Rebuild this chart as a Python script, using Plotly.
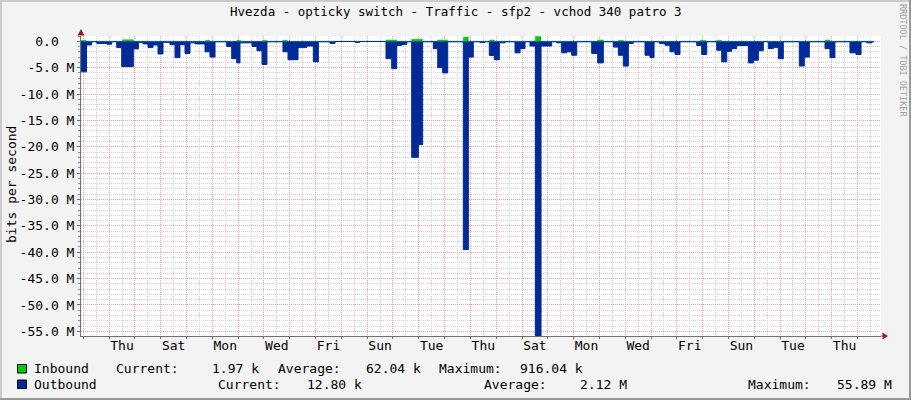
import plotly.graph_objects as go

# ---------------- data (hours since first midnight, Mbit/s) ----------------
out_t = [-2.1, 3.0, 7.8, 12.5, 21.8, 26.4, 31.1, 35.7, 46.5, 51.2,
         55.5, 60.2, 64.8, 69.5, 74.1, 80.6, 85.3, 89.9, 94.6, 99.2,
         103.9, 113.2, 117.8, 122.5, 133.4, 138.0, 142.7, 145.7, 156.9, 161.5,
         166.2, 170.8, 185.7, 190.4, 199.7, 207.8, 213.9, 218.6, 229.4, 234.1,
         252.7, 257.3, 281.5, 286.8, 291.5, 296.1, 300.8, 305.4, 311.6, 315.6,
         325.5, 329.6, 334.2, 338.9, 353.4, 358.1, 362.7, 368.9, 373.6, 377.6,
         382.2, 386.9, 392.2, 401.5, 406.2, 410.8, 415.4, 420.5, 425.7, 435.6,
         440.3, 444.9, 449.6, 454.2, 458.9, 472.8, 478.4, 483.6, 492.9, 497.6,
         502.2, 506.9, 511.5, 522.4, 527.0, 530.8, 535.7, 541.0, 545.6, 550.3,
         554.9, 570.5, 575.1, 579.8, 589.1, 593.7, 598.4, 603.0, 607.7, 618.5,
         623.1, 627.8, 632.4, 637.1, 641.7, 646.4, 651.0, 665.9, 670.5, 675.2,
         689.8, 694.4, 699.0, 713.0, 718.6, 723.3, 728.6, 733.3, 735.5]
out_v = [5.8, 0.7, 0.1, 0.4, 0.55, 0.1, 1.2, 4.8, 1.45, 0.2,
         0.5, 1.2, 0.7, 2.4, 0.2, 0.65, 3.1, 0.65, 2.3, 0.3,
         0.5, 2.0, 3.0, 0.1, 1.0, 3.3, 4.1, 0.3, 1.0, 1.8,
         4.4, 0.1, 2.0, 3.5, 1.2, 0.9, 3.9, 0.1, 0.4, 0.05,
         0.2, 0.05, 3.3, 5.2, 0.8, 0.6, 0.1, 22.0, 19.6, 0.1,
         1.4, 5.0, 6.0, 0.1, 39.5, 3.0, 0.1, 0.25, 0.1, 2.7,
         3.5, 0.3, 0.1, 2.2, 1.4, 0.1, 0.9, 55.89, 0.9, 0.1,
         0.3, 2.2, 2.0, 2.65, 0.1, 2.3, 4.1, 0.1, 1.1, 2.65,
         4.7, 0.4, 0.1, 2.65, 3.1, 0.1, 0.4, 0.75, 2.0, 2.5,
         0.1, 0.8, 2.5, 0.1, 1.7, 3.9, 1.9, 1.4, 0.8, 4.1,
         3.6, 1.8, 0.1, 1.4, 1.2, 3.3, 0.1, 4.7, 3.0, 0.1,
         1.4, 3.1, 0.1, 2.2, 2.5, 0.1, 0.3, 0.1, 0.1]

in_t = [-2.1, 2.5, 36.6, 46.5, 113.8, 117.8, 142.7, 146.4, 166.8, 170.6,
        185.4, 189.7, 281.5, 291.5, 305.4, 315.6, 329.6, 338.9, 353.4, 358.1,
        377.6, 382.2, 420.5, 425.7, 478.4, 483.6, 497.6, 502.2, 573.5, 579.1,
        589.1, 593.7, 689.8, 694.4, 735.5]
in_v = [0.2, 0.02, 0.3, 0.02, 0.2, 0.02, 0.2, 0.02, 0.2, 0.02,
        0.2, 0.02, 0.25, 0.02, 0.4, 0.02, 0.25, 0.02, 0.8, 0.02,
        0.25, 0.02, 0.916, 0.02, 0.25, 0.02, 0.2, 0.02, 0.2, 0.02,
        0.2, 0.02, 0.25, 0.02, 0.02]

assert len(out_t) == len(out_v) and len(in_t) == len(in_v)

day_label_hours = [36 + 48 * i for i in range(15)]
day_labels = ["Thu", "Sat", "Mon", "Wed", "Fri", "Sun", "Tue", "Thu",
              "Sat", "Mon", "Wed", "Fri", "Sun", "Tue", "Thu"]
y_tickvals = [0, -5, -10, -15, -20, -25, -30, -35, -40, -45, -50, -55]
y_ticktext = ["0.0\u00a0\u00a0"] + ["%.1f M" % v for v in y_tickvals[1:]]

title = "Hvezda - opticky switch - Traffic - sfp2 - vchod 340 patro 3"
legend_row1 = ["Inbound", "Current:", "1.97 k", "Average:", "62.04 k", "Maximum:", "916.04 k"]
legend_row2 = ["Outbound", "Current:", "12.80 k", "Average:", "2.12 M", "Maximum:", "55.89 M"]

# ---------------- layout helpers ----------------
W, H = 911, 400
L, R, T, B = 81, 881, 36, 336
def px(x):
    return (x - L) / (R - L)
def py(y):
    return (B - y) / (B - T)

GREEN = "#00CC00"
BLUE = "#002A97"
MONO = "DejaVu Sans Mono"

fig = go.Figure()
fig.add_trace(go.Scatter(x=in_t, y=in_v, mode="lines", line_shape="hv",
                         line=dict(color=GREEN, width=0.5), fill="tozeroy",
                         fillcolor=GREEN, hoverinfo="skip"))
fig.add_trace(go.Scatter(x=out_t, y=[-v for v in out_v], mode="lines", line_shape="hv",
                         line=dict(color=BLUE, width=1), fill="tozeroy",
                         fillcolor=BLUE, hoverinfo="skip"))
# dummy trace to carry the label axis
fig.add_trace(go.Scatter(x=[-2.14, 741.86], y=[0, 0], xaxis="x2", mode="lines",
                         line=dict(width=0), opacity=0, hoverinfo="skip"))

grid_major = "#F2A0A0"
grid_minor = "#D2D2D2"
dash = "1px,1px"

fig.update_layout(
    width=W, height=H, autosize=False,
    margin=dict(l=L, r=W - R, t=T, b=H - B, pad=0),
    paper_bgcolor="#F3F3F3", plot_bgcolor="#FFFFFF",
    showlegend=False,
    font=dict(family=MONO, size=13, color="#000000"),
    xaxis=dict(range=[-2.14, 741.86], tickmode="linear", tick0=0, dtick=24,
               showticklabels=False, showgrid=True, gridcolor=grid_major,
               griddash=dash, gridwidth=1, zeroline=False,
               showline=True, linecolor="#707070", linewidth=1,
               ticks="outside", ticklen=2, tickcolor="#707070",
               minor=dict(tickmode="linear", tick0=0, dtick=12, showgrid=True,
                          gridcolor=grid_minor, griddash=dash, gridwidth=1,
                          ticks=""),
               fixedrange=True),
    xaxis2=dict(range=[-2.14, 741.86], overlaying="x", anchor="y", side="bottom",
                tickmode="array", tickvals=day_label_hours, ticktext=day_labels,
                showgrid=False, zeroline=False, showline=False, ticks="",
                tickfont=dict(family=MONO, size=13, color="#000"),
                fixedrange=True),
    yaxis=dict(range=[-55.89, 1.0], tickmode="array", tickvals=y_tickvals,
               ticktext=y_ticktext, showgrid=True, gridcolor=grid_major,
               griddash=dash, gridwidth=1, zeroline=False,
               showline=True, linecolor="#707070", linewidth=1,
               ticks="outside", ticklen=3, tickcolor="#707070",
               tickfont=dict(family=MONO, size=13, color="#000"),
               minor=dict(tickmode="linear", tick0=0, dtick=1, showgrid=True,
                          gridcolor=grid_minor, griddash=dash, gridwidth=1,
                          ticks="outside", ticklen=2, tickcolor="#909090"),
               fixedrange=True),
)

shapes = []
ARROW = "#9B1B1B"
# axis arrows
shapes.append(dict(type="path", xref="paper", yref="paper",
                   path="M %f,%f L %f,%f L %f,%f Z" % (px(77.5), py(35.5), px(84.5), py(35.5), px(81), py(29)),
                   fillcolor=ARROW, line=dict(width=0)))
shapes.append(dict(type="line", xref="paper", yref="paper", x0=px(881), x1=px(883), y0=py(336), y1=py(336),
                   line=dict(color="#707070", width=1)))
shapes.append(dict(type="path", xref="paper", yref="paper",
                   path="M %f,%f L %f,%f L %f,%f Z" % (px(882.5), py(332.5), px(882.5), py(339.5), px(888), py(336)),
                   fillcolor=ARROW, line=dict(width=0)))
# image frame
shapes.append(dict(type="rect", xref="paper", yref="paper", x0=px(0), x1=px(2), y0=py(0), y1=py(400),
                   fillcolor="#CBCBCB", line=dict(width=0), layer="below"))
shapes.append(dict(type="rect", xref="paper", yref="paper", x0=px(0), x1=px(911), y0=py(0), y1=py(2),
                   fillcolor="#CBCBCB", line=dict(width=0), layer="below"))
shapes.append(dict(type="rect", xref="paper", yref="paper", x0=px(909), x1=px(911), y0=py(0), y1=py(400),
                   fillcolor="#999999", line=dict(width=0), layer="below"))
shapes.append(dict(type="rect", xref="paper", yref="paper", x0=px(0), x1=px(911), y0=py(398), y1=py(400),
                   fillcolor="#999999", line=dict(width=0), layer="below"))
# legend swatches
shapes.append(dict(type="rect", xref="paper", yref="paper", x0=px(17.5), x1=px(26.5), y0=py(364.5), y1=py(373),
                   fillcolor=GREEN, line=dict(color="#000000", width=1)))
shapes.append(dict(type="rect", xref="paper", yref="paper", x0=px(17.5), x1=px(26.5), y0=py(380), y1=py(388.5),
                   fillcolor=BLUE, line=dict(color="#000000", width=1)))
fig.update_layout(shapes=shapes)

ann = []
def text(s, x, y, size=13, color="#000000", xanchor="left", angle=0):
    ann.append(dict(text=s, x=px(x), y=py(y), xref="paper", yref="paper",
                    xanchor=xanchor, yanchor="middle", showarrow=False,
                    textangle=angle, borderpad=0, borderwidth=0,
                    font=dict(family=MONO, size=size, color=color)))

text(title, 455.5, 12, size=12.5, xanchor="center")
text("bits per second", 11, 185, xanchor="center", angle=-90)
text("RRDTOOL / TOBI OETIKER", 903, 60, size=8.5, color="#A0A0A0", xanchor="center", angle=90)

row1_x = [34, 116, 212, 278, 366, 439, 520]
row2_x = [34, 218, 307, 484, 580, 748, 837]
for s, x in zip(legend_row1, row1_x):
    text(s, x, 368.5)
for s, x in zip(legend_row2, row2_x):
    text(s, x, 384)
fig.update_layout(annotations=ann)

fig.write_html("out.html", config={"displayModeBar": False, "staticPlot": True},
               post_script="document.body.style.margin='0';document.body.style.padding='0';document.body.style.overflow='hidden';")
